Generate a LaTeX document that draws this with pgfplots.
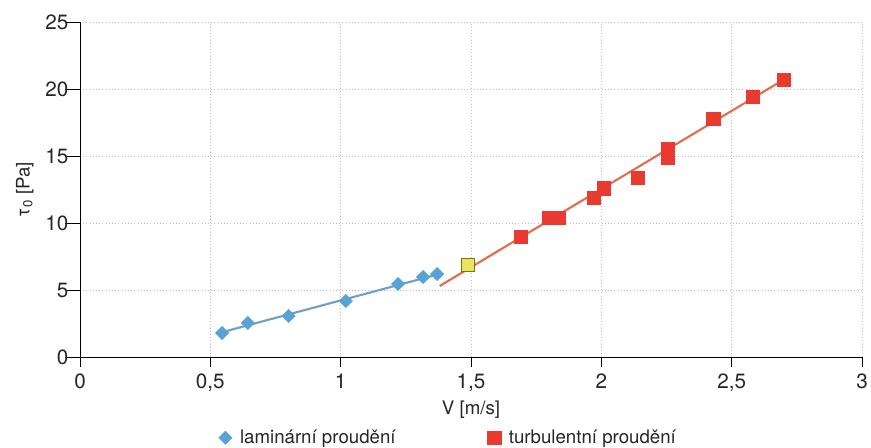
\documentclass[border=0pt]{standalone}
\usepackage{fontspec}
\setmainfont{TeX Gyre Heros}
\usepackage{pgfplots}
\pgfplotsset{compat=1.18}
\definecolor{lamblue}{RGB}{88,163,214}
\definecolor{turbred}{RGB}{232,58,46}
\definecolor{linered}{RGB}{226,110,80}
\definecolor{lineblue}{RGB}{110,160,200}
\begin{document}
\begin{tikzpicture}[x=1pt,y=1pt]
\begin{axis}[
  name=ax,
  scale only axis,
  width=586.5pt, height=251.25pt,
  xmin=0, xmax=3, ymin=0, ymax=25,
  xtick={0,0.5,1,1.5,2,2.5,3},
  ytick={0,5,10,15,20,25},
  axis lines=left,
  axis line style={-, black, line width=0.6pt},
  tick align=outside,
  tick style={black, line width=0.6pt},
  xtick style={/pgfplots/major tick length=7.5pt},
  ytick style={/pgfplots/major tick length=11pt},
  grid=major,
  major grid style={gray!50, dotted, line width=0.6pt},
  /pgf/number format/assume math mode=true,
  /pgf/number format/use comma,
  ticklabel style={font=\fontsize{15.5}{17}\selectfont, text=black!85},
  xticklabel style={yshift=-5pt},
  yticklabel style={xshift=-1pt},
  xlabel={V [m/s]},
  ylabel={τ\textsubscript{0} [Pa]},
  label style={font=\fontsize{14}{16}\selectfont, text=black!85},
  xlabel style={yshift=0pt},
  ylabel style={yshift=2pt},
  clip=false,
  legend columns=2,
  legend style={at={(0.4715,-0.241)}, anchor=center, draw=none, fill=none,
    font=\fontsize{14}{16}\selectfont, text=black!85,
    /tikz/every odd column/.append style={column sep=4pt},
    /tikz/every even column/.append style={column sep=67pt}},
  legend cell align=left,
]
\addplot[lineblue, line width=1.6pt, forget plot] coordinates {(0.545,1.85) (1.37,6.15)};
\addplot[linered, line width=1.6pt, forget plot] coordinates {(1.38,5.3) (2.70,20.7)};
\addplot[only marks, mark=square*, mark size=3.5pt, mark options={rotate=45}, color=lamblue, fill=lamblue] coordinates {
(0.545,1.79) (0.644,2.54) (0.80,3.06) (1.02,4.18) (1.22,5.45) (1.316,5.97) (1.37,6.19)
};
\addlegendentry{laminární proudění}
\addplot[only marks, mark=square*, mark size=5pt, color=turbred, fill=turbred] coordinates {
(1.69,8.96) (1.80,10.37) (1.835,10.37) (1.97,11.87) (2.01,12.6) (2.14,13.4)
(2.256,14.9) (2.256,15.5) (2.43,17.8) (2.58,19.4) (2.70,20.7)
};
\addlegendentry{turbulentní proudění}
\addplot[only marks, mark=square*, mark size=4.8pt, draw=olive!80!black, fill=yellow!70!olive!60, forget plot] coordinates {(1.488,6.87)};
\end{axis}
\pgfresetboundingbox
\path[use as bounding box] ([shift={(-60pt,-68.25pt)}]ax.south west) rectangle ([shift={(593.25pt,267.75pt)}]ax.south west);
\end{tikzpicture}
\end{document}
